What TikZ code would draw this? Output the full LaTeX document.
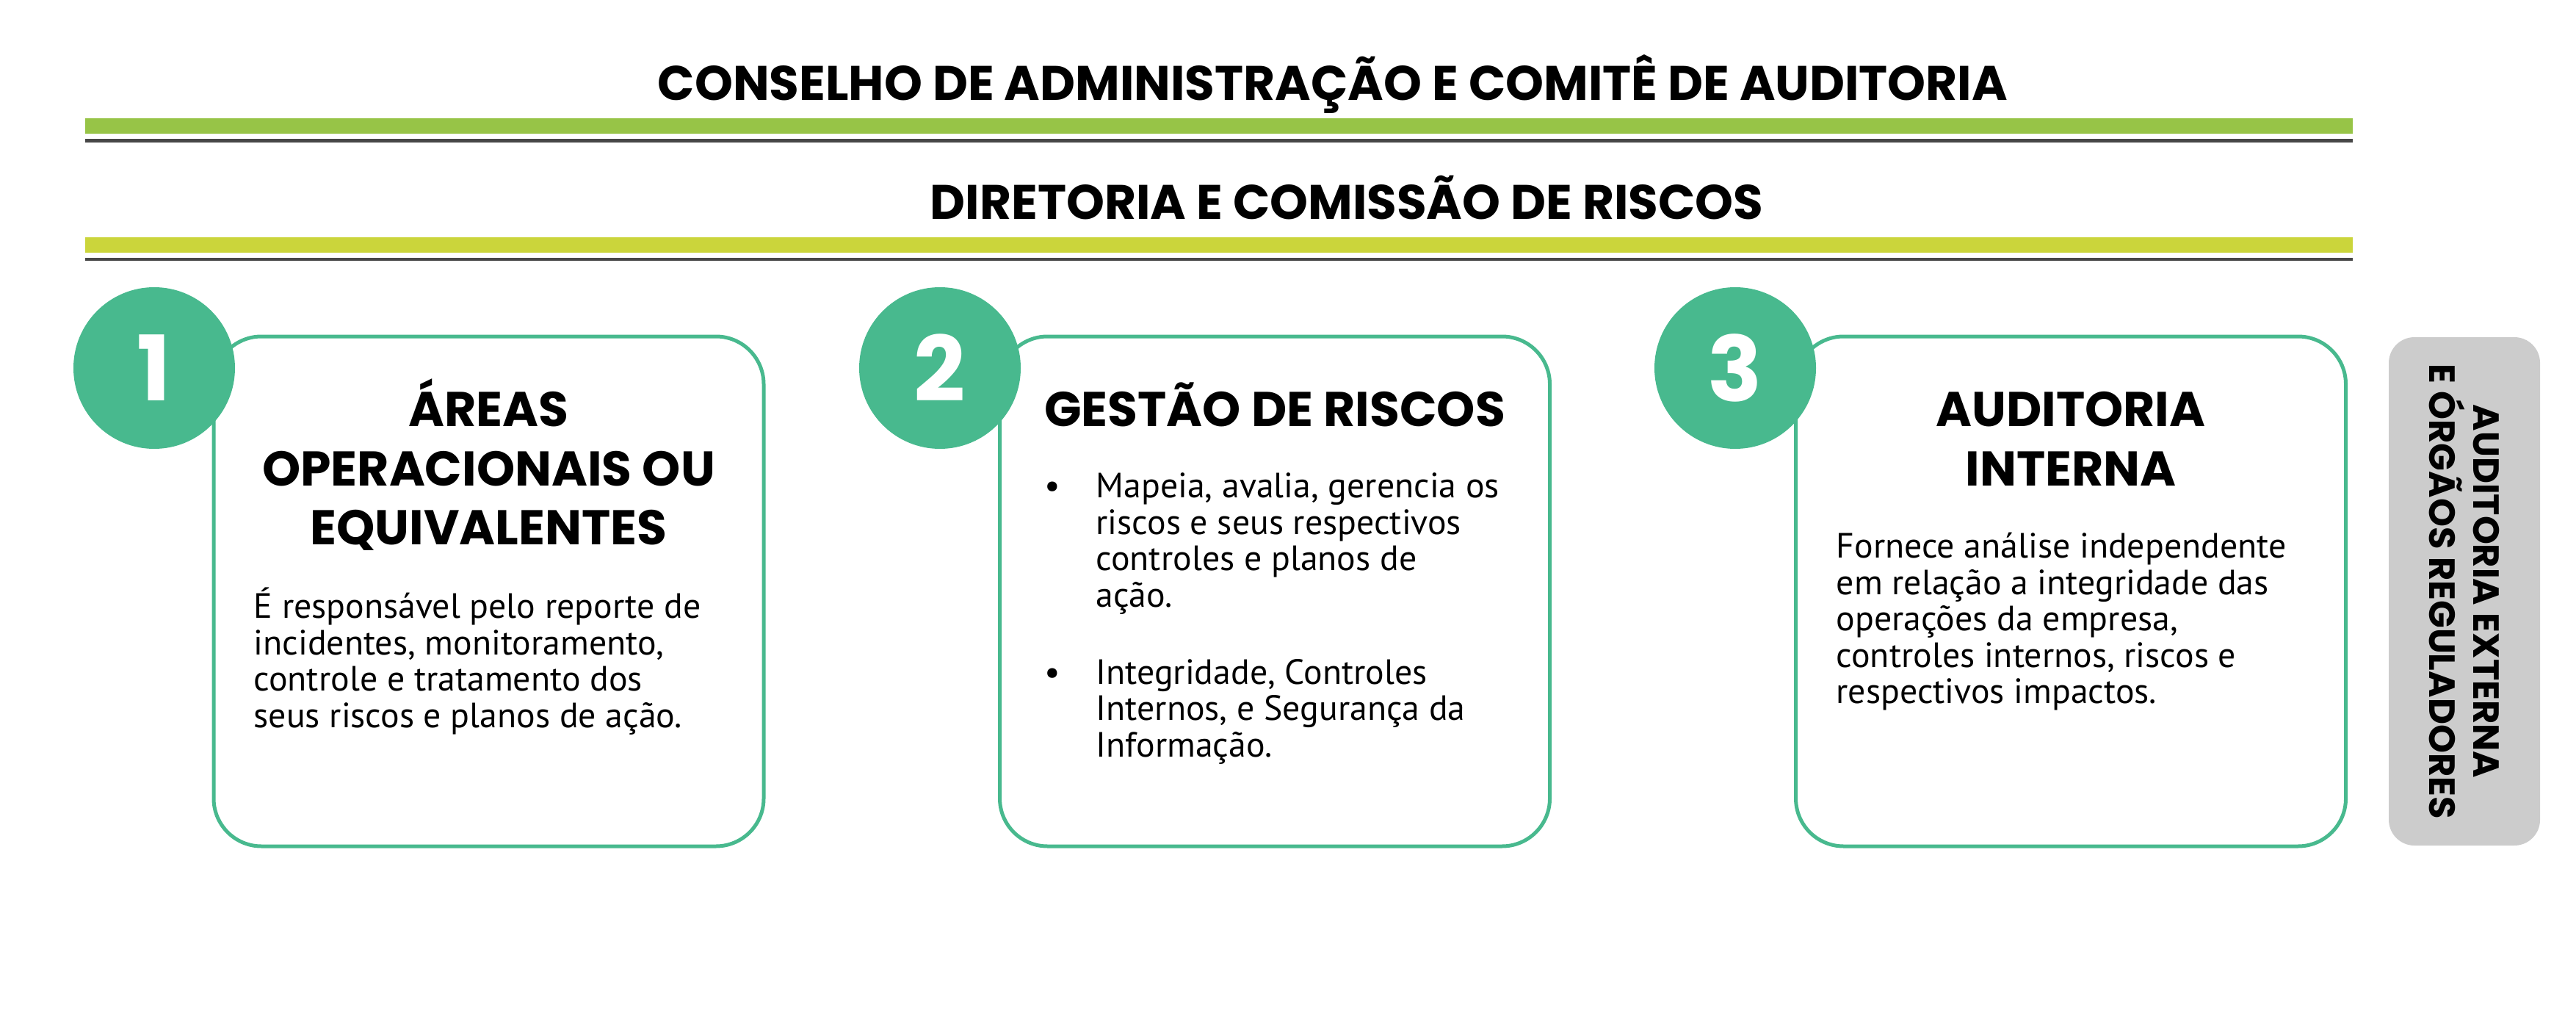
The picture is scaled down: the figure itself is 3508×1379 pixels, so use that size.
\documentclass[tikz,border=0pt]{standalone}
\usepackage{fontspec}
\setmainfont{PT Sans}
\newfontfamily\headfont{Poppins}
\usetikzlibrary{positioning}
\definecolor{barGreen}{HTML}{97C447}
\definecolor{barLime}{HTML}{CBD53B}
\definecolor{barDark}{HTML}{474747}
\definecolor{riskGreen}{HTML}{48B98E}
\definecolor{sideGray}{HTML}{CCCCCC}
\newcommand{\headsize}{\fontsize{18.9}{22.9}\selectfont}
\newcommand{\bodysize}{\fontsize{13.6}{14.1}\selectfont}

\begin{document}
\begin{tikzpicture}[x=0.1mm,y=-0.1mm,
    card/.style={draw=riskGreen, line width=0.5mm, rounded corners=6.5mm, fill=white,
      minimum width=74.9mm, minimum height=69.4mm},
    numdisc/.style={circle, fill=riskGreen, minimum size=22mm, inner sep=0pt, text=white,
      font=\headfont\bfseries\fontsize{35}{35}\selectfont},
    cardtitle/.style={anchor=base, align=center, inner sep=0pt, font=\headfont\bfseries\headsize},
    cardtext/.style={anchor=base west, align=left, inner sep=0pt, font=\bodysize}]
  \useasboundingbox (0,0) rectangle (3508,1379);
  % top levels
  \node[anchor=base, inner sep=0pt, font=\headfont\bfseries\fontsize{18.8}{22}\selectfont] (board) at (1815,137)
    {CONSELHO DE ADMINISTRAÇÃO E COMITÊ DE AUDITORIA};
  \fill[barGreen] (115.6,161) rectangle (3204,182);
  \fill[barDark] (115.6,189) rectangle (3204,194);
  \node[anchor=base, inner sep=0pt, font=\headfont\bfseries\fontsize{18.8}{22}\selectfont] (board2) at (1834,299)
    {DIRETORIA E COMISSÃO DE RISCOS};
  \fill[barLime] (115.6,323) rectangle (3204,344);
  \fill[barDark] (115.6,351) rectangle (3204,355);
  % the three lines (base = last line of each node)
  \node[card] (box1) at (665.5,805) {};
  \node[card] (box2) at (1736,805) {};
  \node[card] (box3) at (2820,805) {};
  \node[numdisc] (disc1) at (210,501) {1};
  \node[numdisc] (disc2) at (1280,501) {2};
  \node[numdisc] (disc3) at (2363,501) {3};
  \node[cardtitle] (title1) at (665.5,741.5) {ÁREAS\\OPERACIONAIS OU\\EQUIVALENTES};
  \node[cardtitle] (title2) at (1736,580) {GESTÃO DE RISCOS};
  \node[cardtitle] (title3) at (2820,661) {AUDITORIA\\INTERNA};
  \node[cardtext] (text1) at (345,990.3)
    {É responsável pelo reporte de\\incidentes, monitoramento,\\controle e tratamento dos\\seus riscos e planos de ação.};
  \node[cardtext] (dot2a) at (1421.5,677.4) {•};
  \node[cardtext] (text2a) at (1492,826.2)
    {Mapeia, avalia, gerencia os\\riscos e seus respectivos\\controles e planos de\\ação.};
  \node[cardtext] (dot2b) at (1421.5,931) {•};
  \node[cardtext] (text2b) at (1492,1030.2)
    {Integridade, Controles\\Internos, e Segurança da\\Informação.};
  \node[cardtext] (text3) at (2500,957.9)
    {Fornece análise independente\\em relação a integridade das\\operações da empresa,\\controles internos, riscos e\\respectivos impactos.};
  % outside
  \node[fill=sideGray, rounded corners=3.5mm, minimum width=20.6mm, minimum height=69.2mm] (ext) at (3356,805) {};
  \node[rotate=-90, align=center, inner sep=0pt, font=\headfont\bfseries\fontsize{14.1}{17}\selectfont] (extlabel) at (ext.center)
    {AUDITORIA EXTERNA\\E ÓRGÃOS REGULADORES};
\end{tikzpicture}
\end{document}
